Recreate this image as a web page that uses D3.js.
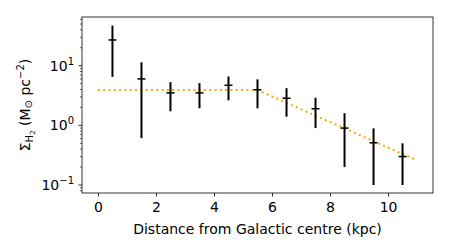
<!DOCTYPE html>
<html>
<head>
<meta charset="utf-8">
<script src="https://cdn.jsdelivr.net/npm/d3@7"></script>
<style>
  body { margin: 0; background: #fff; }
  svg text { font-family: "DejaVu Sans", sans-serif; fill: #000; }
</style>
</head>
<body>
<div id="chart"></div>
<script>
// measured surface densities per 1 kpc ring
const radius = [0.5, 1.5, 2.5, 3.5, 4.5, 5.5, 6.5, 7.5, 8.5, 9.5, 10.5];
const sigma = [27, 6.0, 3.5, 3.5, 4.7, 3.95, 2.85, 1.9, 0.9, 0.51, 0.30];
const sigmaHi = [47, 11.4, 5.3, 5.1, 6.6, 5.9, 4.2, 2.9, 1.6, 0.89, 0.50];
const sigmaLo = [6.5, 0.61, 1.72, 1.93, 2.63, 1.93, 1.4, 0.9, 0.2, 0.10, 0.10];

// model: flat inner part then exponential fall-off
const modelR = [0, 5.5, 11];
const modelSigma = [3.9, 3.9, 0.26];

const xTicks = [0, 2, 4, 6, 8, 10];
const yTicks = [-1, 0, 1];

const width = 450;
const height = 250;
const margin = { top: 17, right: 17, bottom: 57, left: 82 };

const svg = d3.select('#chart')
    .append('svg')
    .attr('width', width)
    .attr('height', height);

const xScale = d3.scaleLinear()
    .domain([-0.55, 11.55])
    .range([margin.left, width - margin.right]);

const yScale = d3.scaleLog()
    .domain([0.0735, 65.5])
    .range([height - margin.bottom, margin.top]);

// model line
const line = d3.line()
    .x((d, i) => xScale(modelR[i]))
    .y(d => yScale(d));

svg.append('path')
    .datum(modelSigma)
    .attr('d', line)
    .attr('fill', 'none')
    .attr('stroke', '#ffa500')
    .attr('stroke-width', 2)
    .attr('stroke-dasharray', '2,3.3');

// error bars
svg.selectAll('line.err')
    .data(radius)
    .enter()
    .append('line')
        .attr('class', 'err')
        .attr('x1', d => xScale(d))
        .attr('x2', d => xScale(d))
        .attr('y1', (d, i) => yScale(sigmaHi[i]))
        .attr('y2', (d, i) => yScale(sigmaLo[i]))
        .attr('stroke', '#000')
        .attr('stroke-width', 2);

// centre markers
svg.selectAll('line.mark')
    .data(radius)
    .enter()
    .append('line')
        .attr('class', 'mark')
        .attr('x1', d => xScale(d) - 4)
        .attr('x2', d => xScale(d) + 4)
        .attr('y1', (d, i) => yScale(sigma[i]))
        .attr('y2', (d, i) => yScale(sigma[i]))
        .attr('stroke', '#000')
        .attr('stroke-width', 1.5);

// x axis
const xAxis = svg.append('g')
    .attr('transform', `translate(0, ${height - margin.bottom})`)
    .call(d3.axisBottom(xScale).tickValues(xTicks).tickSize(3.5).tickPadding(6).tickFormat(d3.format('d')));
xAxis.select('.domain').remove();
xAxis.selectAll('line').attr('stroke-width', 0.8);
xAxis.selectAll('text').style('font-size', '14px');

// y axis: minor ticks
const [y0, y1] = yScale.domain();
const minor = [];
for (let e = -2; e <= 2; e++) {
    for (let m = 2; m <= 9; m++) {
        const v = m * Math.pow(10, e);
        if (v >= y0 && v <= y1) minor.push(v);
    }
}
svg.append('g')
    .selectAll('line')
    .data(minor)
    .enter()
    .append('line')
        .attr('x1', margin.left - 2)
        .attr('x2', margin.left)
        .attr('y1', d => yScale(d))
        .attr('y2', d => yScale(d))
        .attr('stroke', '#000')
        .attr('stroke-width', 0.6);

// y axis: major ticks with 10^n labels
const yMajor = svg.append('g');
yMajor.selectAll('line')
    .data(yTicks)
    .enter()
    .append('line')
        .attr('x1', margin.left - 3.5)
        .attr('x2', margin.left)
        .attr('y1', d => yScale(Math.pow(10, d)))
        .attr('y2', d => yScale(Math.pow(10, d)))
        .attr('stroke', '#000')
        .attr('stroke-width', 0.8);

const yLabels = yMajor.selectAll('text')
    .data(yTicks)
    .enter()
    .append('text')
        .attr('x', margin.left - 8)
        .attr('y', d => yScale(Math.pow(10, d)) + 5)
        .attr('text-anchor', 'end')
        .style('font-size', '14px');
yLabels.append('tspan').text('10');
yLabels.append('tspan')
    .attr('dy', -6)
    .style('font-size', '10px')
    .text(d => d < 0 ? '\u2212' + Math.abs(d) : d);

// frame
svg.append('rect')
    .attr('x', margin.left)
    .attr('y', margin.top)
    .attr('width', width - margin.left - margin.right)
    .attr('height', height - margin.top - margin.bottom)
    .attr('fill', 'none')
    .attr('stroke', '#000')
    .attr('stroke-width', 0.8);

// axis titles
svg.append('text')
    .attr('x', (margin.left + width - margin.right) / 2)
    .attr('y', 234)
    .attr('text-anchor', 'middle')
    .style('font-size', '14px')
    .text('Distance from Galactic centre (kpc)');

const yTitle = svg.append('text')
    .attr('transform', `translate(30, ${(margin.top + height - margin.bottom) / 2}) rotate(-90)`)
    .attr('text-anchor', 'middle')
    .style('font-size', '14px');
yTitle.append('tspan').text('\u03A3');
yTitle.append('tspan').attr('dy', 3).style('font-size', '10px').text('H');
yTitle.append('tspan').attr('dy', 2).style('font-size', '7px').text('2');
yTitle.append('tspan').attr('dy', -5).text(' (M');
yTitle.append('tspan').attr('dy', 2).style('font-size', '10px').text('\u2299');
yTitle.append('tspan').attr('dy', -2).text(' pc');
yTitle.append('tspan').attr('dy', -6).style('font-size', '10px').text('\u22122');
yTitle.append('tspan').attr('dy', 6).text(')');
</script>
</body>
</html>
